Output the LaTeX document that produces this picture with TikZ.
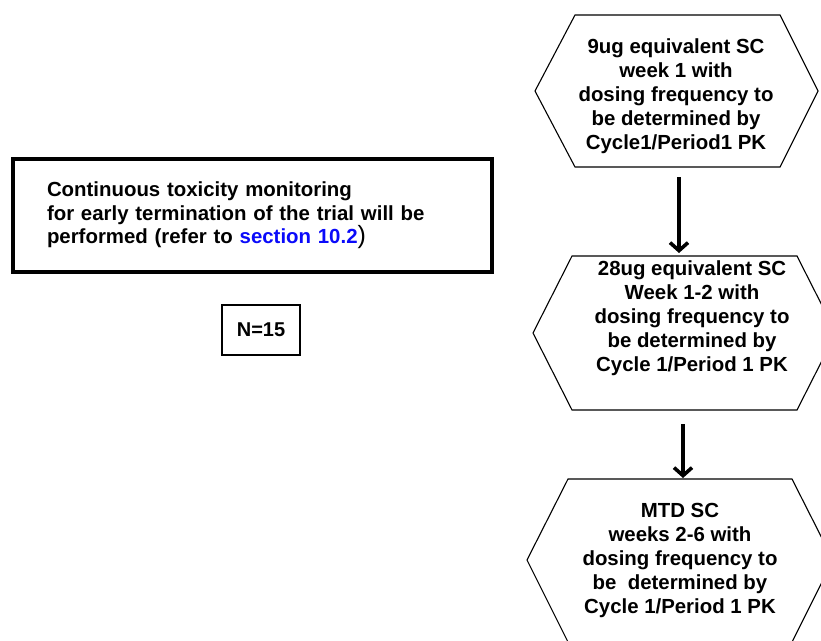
\documentclass[tikz,border=0pt]{standalone}
\usepackage{fontspec}
\setmainfont{Liberation Sans}
\usetikzlibrary{arrows.meta}
\definecolor{linkblue}{RGB}{10,10,250}
\begin{document}
\begin{tikzpicture}[x=1pt,y=-1pt,
  hexline/.style={draw=black,line width=1.1pt,line join=miter},
  hextext/.style={align=center,font=\fontsize{20.4}{24}\selectfont\bfseries,inner sep=0pt},
  arr/.style={line width=3.6pt,-{Straight Barb[length=8pt,width=18pt,line width=3.6pt]}},
  notebox/.style={draw=black,line width=4pt,minimum width=479pt,minimum height=113pt,text width=411pt,inner xsep=34pt,align=left,font=\fontsize{20.4}{23.5}\selectfont\bfseries},
  nbox/.style={draw=black,line width=1.5pt,minimum width=78pt,minimum height=50pt,font=\fontsize{20}{24}\selectfont\bfseries}]
\useasboundingbox (0,0) rectangle (821,640);
\fill[white] (0,0) rectangle (821,640);
\begin{scope}
\clip (0,0) rectangle (821,640);
% hexagons
\draw[hexline] (575,15) -- (780,15) -- (818,91) -- (780,167) -- (575,167) -- (535,91) -- cycle;
\draw[hexline] (572,256) -- (797,256) -- (836,333) -- (797,410) -- (572,410) -- (533,333) -- cycle;
\draw[hexline] (568,479) -- (792,479) -- (833,560) -- (792,642) -- (568,642) -- (527,560) -- cycle;
\end{scope}
\node[hextext] (h1) at (676,96) {9ug equivalent SC\\week 1 with\\dosing frequency to\\be determined by\\Cycle1/Period1 PK};
\node[hextext] (h2) at (692,318) {28ug equivalent SC\\Week 1-2 with\\dosing frequency to\\be determined by\\Cycle 1/Period 1 PK};
\node[hextext] (h3) at (680,560) {MTD SC\\weeks 2-6 with\\dosing frequency to\\be\ \ determined by\\Cycle 1/Period 1 PK};
% connectors
\coordinate (a1s) at (679,177);
\coordinate (a1e) at (679,253);
\coordinate (a2s) at (683,424);
\coordinate (a2e) at (683,478);
\draw[arr] (a1s) -- (a1e);
\draw[arr] (a2s) -- (a2e);
% left boxes
\node[notebox] (note) at (252.5,215.5) {Continuous toxicity monitoring\\for early termination of the trial will be\\performed (refer to {\color{linkblue}section 10.2}{\mdseries\fontsize{25}{24}\selectfont)}};
\node[nbox] (n) at (261,330) {N=15};
\end{tikzpicture}
\end{document}
